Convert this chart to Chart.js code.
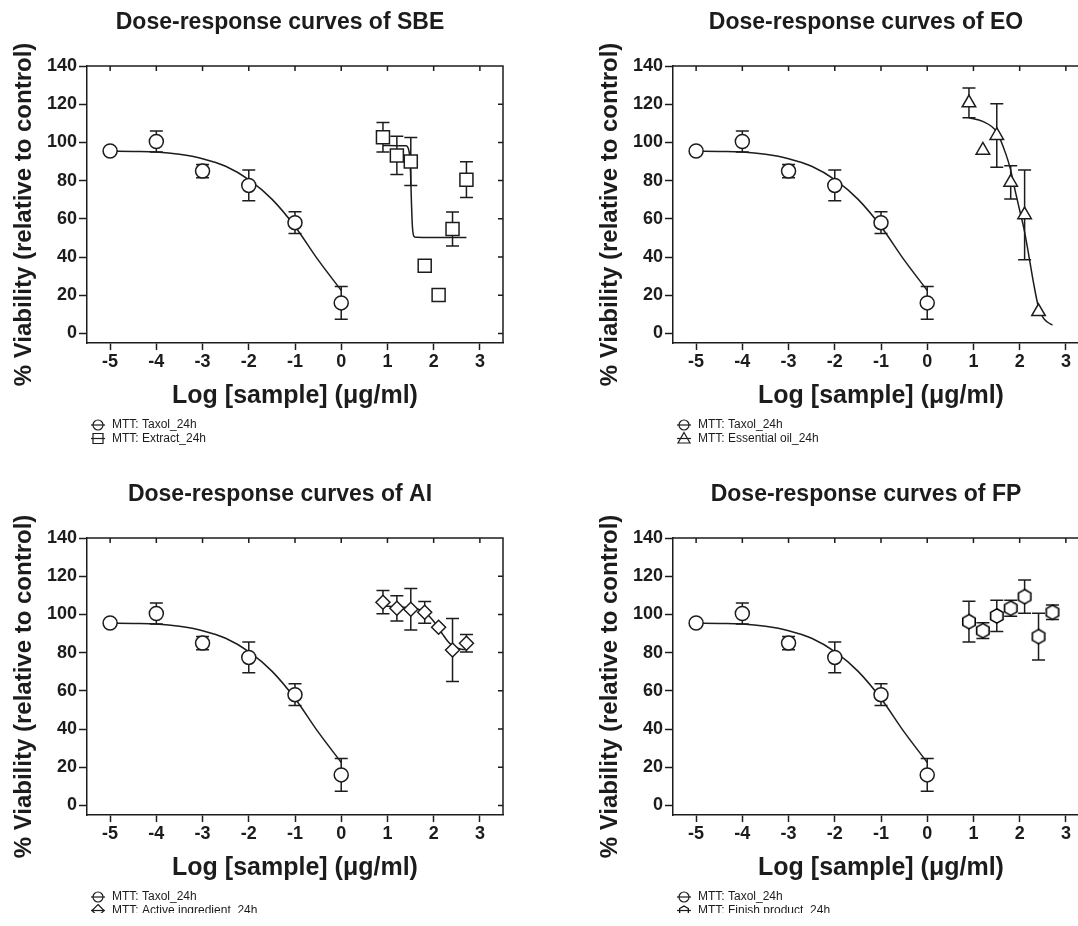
<!DOCTYPE html>
<html><head><meta charset="utf-8">
<script src="https://cdn.jsdelivr.net/npm/chart.js@4.4.1/dist/chart.umd.min.js"></script>
<style>
html,body{margin:0;padding:0;background:#fff;overflow:hidden;width:1078px;height:926px;position:relative;}
canvas{position:absolute;}
</style></head><body>
<canvas id="c1"></canvas><canvas id="c2"></canvas><canvas id="c3"></canvas><canvas id="c4"></canvas>
<script>
// ---- data ----
const xTicks = [-5,-4,-3,-2,-1,0,1,2,3];
const yTicks = [0,20,40,60,80,100,120,140];
const panelTitles = ['Dose-response curves of SBE','Dose-response curves of EO','Dose-response curves of AI','Dose-response curves of FP'];
const yTitle = '% Viability (relative to control)';
const xTitle = 'Log [sample] (\u03bcg/ml)';

const taxolLabel = 'MTT: Taxol_24h';
const taxolX = [-5,-4,-3,-2,-1,0];
const taxolY = [95.5,100.5,85,77.5,58,16];
const taxolErr = [0,5.5,3.5,8,5.7,8.6];
const taxolFitX = [-5,-4.5,-4,-3.5,-3,-2.5,-2,-1.5,-1,-0.5,0];
const taxolFitY = [95.5,95.3,95,93.8,91.5,87.5,80.5,70.3,56,38.5,22.5];

const sbeLabel = 'MTT: Extract_24h';
const sbeX = [0.903,1.204,1.505,1.806,2.107,2.408,2.709];
const sbeY = [102.7,93.2,90,35.5,20.1,54.7,80.5];
const sbeErr = [7.7,10,12.6,0,0,8.9,9.4];
const sbeFitX = [0.903,1.2,1.4,1.45,1.48,1.5,1.52,1.54,1.57,1.62,2.0,2.709];
const sbeFitY = [98.4,98.3,98.2,97,93,84,68,56,51,50.3,50.2,50.2];

const eoLabel = 'MTT: Essential oil_24h';
const eoX = [0.903,1.204,1.505,1.806,2.107,2.408];
const eoY = [120.7,95.9,103.6,79.1,62.1,11.4];
const eoErr = [7.8,0,16.6,8.7,23.5,0];
const eoFitX = [0.903,1.2,1.5,1.7,1.8,1.9,2.0,2.1,2.2,2.3,2.4,2.5,2.6,2.709];
const eoFitY = [112.9,111,105.5,94,86,75,64.5,54,40.5,26.5,14.5,8.5,6,4.4];

const aiLabel = 'MTT: Active ingredient_24h';
const aiX = [0.903,1.204,1.505,1.806,2.107,2.408,2.709];
const aiY = [106.4,103.2,102.7,101.1,93.3,81.4,84.9];
const aiErr = [6.1,6.6,10.8,5.7,0,16.5,4.6];
const aiFitX = [0.903,1.2,1.5,1.7,1.8,1.9,2.0,2.1,2.2,2.3,2.4,2.5,2.6,2.709];
const aiFitY = [104.5,104,103.4,102.4,101.2,99.2,96.4,93,89.4,86.1,83.7,82.4,81.8,81.5];

const fpLabel = 'MTT: Finish product_24h';
const fpX = [0.903,1.204,1.505,1.806,2.107,2.408,2.709];
const fpY = [96.2,91.5,99.2,103.2,109.3,88.4,101.1];
const fpErr = [10.7,4.1,8.2,4.2,8.7,12.2,3.8];

// ---- styling / helpers ----
const INK = '#1c1c1c';
const FONT = "'Liberation Sans', Arial, Helvetica, sans-serif";
const zip = (xs, ys) => xs.map((x, i) => ({x, y: ys[i]}));

function hexImage(r, lw) {
  const c = document.createElement('canvas');
  const s = Math.ceil(2 * r + lw + 2);
  c.width = s; c.height = s;
  const g = c.getContext('2d');
  g.beginPath();
  for (let k = 0; k < 6; k++) {
    const a = -Math.PI / 2 + k * Math.PI / 3;
    const px = s / 2 + r * Math.cos(a), py = s / 2 + r * Math.sin(a);
    k ? g.lineTo(px, py) : g.moveTo(px, py);
  }
  g.closePath();
  g.fillStyle = '#fff'; g.fill();
  g.strokeStyle = '#000'; g.lineWidth = lw; g.stroke();
  return c;
}
const hexMarker = hexImage(7.2, 1.6);
const hexLegend = hexImage(5, 1.2);

const errorBars = {
  id: 'errorBars',
  beforeDatasetsDraw(chart) {
    const {ctx, scales: {x, y}} = chart;
    ctx.save();
    ctx.strokeStyle = INK; ctx.lineWidth = 1.5;
    chart.data.datasets.forEach(ds => {
      if (!ds.errors) return;
      ds.data.forEach((pt, i) => {
        const e = ds.errors[i];
        if (!e) return;
        const px = x.getPixelForValue(pt.x);
        const yt = y.getPixelForValue(pt.y + e), yb = y.getPixelForValue(pt.y - e);
        const w = 6.5;
        ctx.beginPath();
        ctx.moveTo(px, yt); ctx.lineTo(px, yb);
        ctx.moveTo(px - w, yt); ctx.lineTo(px + w, yt);
        ctx.moveTo(px - w, yb); ctx.lineTo(px + w, yb);
        ctx.stroke();
      });
    });
    ctx.restore();
  }
};

const frame = {
  id: 'frame',
  afterDatasetsDraw(chart) {
    const {ctx, chartArea: a, scales: {x, y}} = chart;
    ctx.save();
    ctx.strokeStyle = INK; ctx.lineWidth = 1.5;
    ctx.beginPath();
    ctx.moveTo(a.left, a.top); ctx.lineTo(a.right, a.top); ctx.lineTo(a.right, a.bottom);
    x.ticks.forEach(t => { const p = x.getPixelForValue(t.value); ctx.moveTo(p, a.top); ctx.lineTo(p, a.top + 5); });
    y.ticks.forEach(t => { const p = y.getPixelForValue(t.value); ctx.moveTo(a.right, p); ctx.lineTo(a.right - 5, p); });
    ctx.stroke();
    ctx.restore();
  }
};

function legendMarker(ctx, style, x, y) {
  ctx.save();
  ctx.strokeStyle = INK; ctx.lineWidth = 1.2; ctx.fillStyle = '#fff';
  ctx.beginPath();
  const r = 5;
  if (style === 'circle') ctx.arc(x, y, r, 0, Math.PI * 2);
  else if (style === 'rect') ctx.rect(x - 5, y - 5, 10, 10);
  else if (style === 'triangle') { ctx.moveTo(x, y - 6); ctx.lineTo(x + 6, y + 4.5); ctx.lineTo(x - 6, y + 4.5); ctx.closePath(); }
  else if (style === 'rectRot') { ctx.moveTo(x, y - 6); ctx.lineTo(x + 6, y); ctx.lineTo(x, y + 6); ctx.lineTo(x - 6, y); ctx.closePath(); }
  if (style instanceof HTMLCanvasElement) {
    ctx.drawImage(hexLegend, Math.round(x - hexLegend.width / 2), Math.round(y - hexLegend.height / 2));
  } else { ctx.fill(); ctx.stroke(); }
  ctx.beginPath(); ctx.moveTo(x - 7, y); ctx.lineTo(x + 7, y); ctx.stroke();
  ctx.restore();
}

const miniLegend = {
  id: 'miniLegend',
  afterDraw(chart) {
    const {ctx, chartArea: a} = chart;
    let row = 0;
    chart.data.datasets.forEach(ds => {
      if (!ds.inLegend) return;
      const y = a.bottom + 82 + row * 13.5;
      legendMarker(ctx, ds.pointStyle, a.left + 11, y);
      ctx.save();
      ctx.fillStyle = INK; ctx.font = '12px ' + FONT;
      ctx.textAlign = 'left'; ctx.textBaseline = 'middle';
      ctx.fillText(ds.label, a.left + 25, y);
      ctx.restore();
      row++;
    });
  }
};

const panelText = {
  id: 'panelText',
  afterDraw(chart, args, opts) {
    const {ctx, chartArea: a} = chart;
    ctx.save();
    ctx.fillStyle = INK; ctx.font = 'bold 23px ' + FONT;
    ctx.textAlign = 'center'; ctx.textBaseline = 'middle';
    ctx.fillText(opts.title, a.left + 193, 23);
    ctx.translate(24, (a.top + a.bottom) / 2 + 10);
    ctx.rotate(-Math.PI / 2);
    ctx.font = 'bold 24px ' + FONT;
    ctx.fillText(opts.yTitle, 0, 0);
    ctx.restore();
  }
};

function pointSet(label, xs, ys, errs, style, r) {
  return {label, data: zip(xs, ys), errors: errs, inLegend: true, pointStyle: style,
    pointRadius: r, pointHoverRadius: r, backgroundColor: '#fff', borderColor: INK,
    pointBorderWidth: 1.5, borderWidth: 1.5, showLine: false, order: 0};
}
function fitSet(xs, ys) {
  return {type: 'line', data: zip(xs, ys), showLine: true, pointRadius: 0, pointHoverRadius: 0,
    borderColor: INK, borderWidth: 1.5, fill: false, cubicInterpolationMode: 'monotone', order: 1};
}

function makePanel(id, left, top, height, title, sample) {
  const cv = document.getElementById(id);
  const W = 539;
  cv.width = W; cv.height = height;
  cv.style.left = left + 'px'; cv.style.top = top + 'px';
  cv.style.width = W + 'px'; cv.style.height = height + 'px';
  const datasets = [
    pointSet(taxolLabel, taxolX, taxolY, taxolErr, 'circle', 7),
    pointSet(sample.label, sample.x, sample.y, sample.err, sample.style, sample.r),
    fitSet(taxolFitX, taxolFitY)
  ];
  if (sample.fitX) datasets.push(fitSet(sample.fitX, sample.fitY));
  const tickFont = {family: FONT, size: 18, weight: 'bold', lineHeight: 1.2};
  new Chart(cv, {
    type: 'scatter',
    data: {datasets},
    plugins: [errorBars, frame, miniLegend, panelText],
    options: {
      responsive: false, animation: false, devicePixelRatio: 1,
      layout: {padding: {left: 0, right: 36, top: 66, bottom: height - 413}},
      plugins: {legend: {display: false}, tooltip: {enabled: false}, title: {display: false},
        panelText: {title: title, yTitle: yTitle}},
      scales: {
        x: {
          type: 'linear', min: -5.5, max: 3.5,
          afterBuildTicks: s => { s.ticks = xTicks.map(v => ({value: v})); },
          afterFit: s => { s.height = 70; },
          border: {display: true, color: INK, width: 1.5},
          grid: {display: true, drawOnChartArea: false, drawTicks: true, tickLength: 7, tickWidth: 1.5, tickColor: INK},
          ticks: {color: INK, font: tickFont, padding: 1, maxRotation: 0, autoSkip: false, callback: v => String(v)},
          title: {display: true, text: xTitle, color: INK, font: {family: FONT, size: 25, weight: 'bold', lineHeight: 1}, padding: {top: 0, bottom: 4}}
        },
        y: {
          type: 'linear', min: -5, max: 140,
          afterBuildTicks: s => { s.ticks = yTicks.map(v => ({value: v})); },
          afterFit: s => { s.width = 87; },
          border: {display: true, color: INK, width: 1.5},
          grid: {display: true, drawOnChartArea: false, drawTicks: true, tickLength: 8, tickWidth: 1.5, tickColor: INK},
          ticks: {color: INK, font: tickFont, padding: 2, autoSkip: false, callback: v => String(v)},
          title: {display: false}
        }
      }
    }
  });
}

makePanel('c1', 0, 0, 463, panelTitles[0],
  {label: sbeLabel, x: sbeX, y: sbeY, err: sbeErr, style: 'rect', r: 9.2, fitX: sbeFitX, fitY: sbeFitY});
makePanel('c2', 586, 0, 463, panelTitles[1],
  {label: eoLabel, x: eoX, y: eoY, err: eoErr, style: 'triangle', r: 7.8, fitX: eoFitX, fitY: eoFitY});
makePanel('c3', 0, 472, 441, panelTitles[2],
  {label: aiLabel, x: aiX, y: aiY, err: aiErr, style: 'rectRot', r: 7, fitX: aiFitX, fitY: aiFitY});
makePanel('c4', 586, 472, 441, panelTitles[3],
  {label: fpLabel, x: fpX, y: fpY, err: fpErr, style: hexMarker, r: 7});
</script>
</body></html>
